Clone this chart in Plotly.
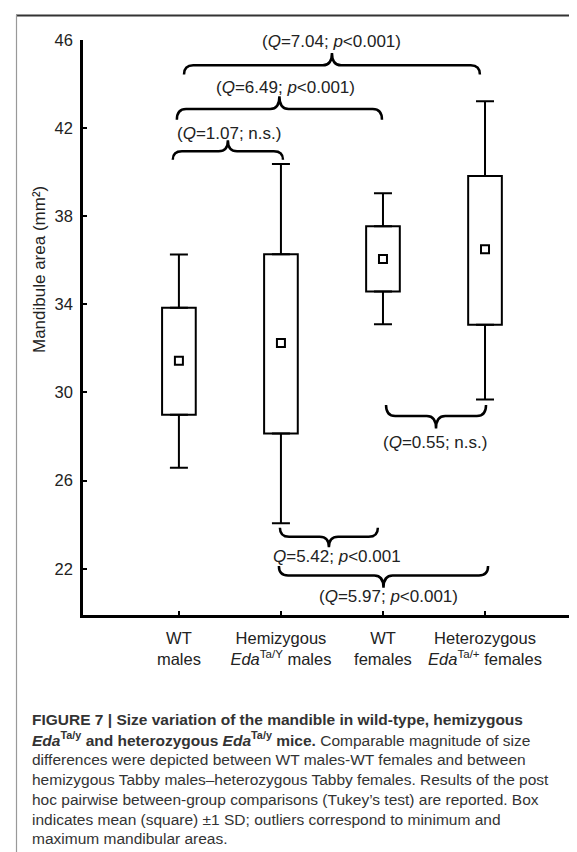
import plotly.graph_objects as go

# ---------------- data ----------------
group_pos = [1, 2, 3, 4]
tick_text = [
    "WT<br>males",
    "Hemizygous<br><i>Eda</i><sup>Ta/Y</sup> males",
    "WT<br>females",
    "Heterozygous<br><i>Eda</i><sup>Ta/+</sup> females",
]
means = [31.44, 32.25, 36.06, 36.50]
sd_low = [28.99, 28.14, 34.58, 33.07]
sd_high = [33.85, 36.28, 37.55, 39.83]
minimum = [26.58, 24.07, 33.10, 29.68]
maximum = [36.26, 40.37, 39.04, 43.22]
y_ticks = [22, 26, 30, 34, 38, 42, 46]

comparison_labels = [
    "(<i>Q</i>=7.04; <i>p</i>&lt;0.001)",
    "(<i>Q</i>=6.49; <i>p</i>&lt;0.001)",
    "(<i>Q</i>=1.07; n.s.)",
    "(<i>Q</i>=0.55; n.s.)",
    "<i>Q</i>=5.42; <i>p</i>&lt;0.001",
    "(<i>Q</i>=5.97; <i>p</i>&lt;0.001)",
]

# ---------------- layout geometry ----------------
W, H = 577, 852
L, R, T, B = 75, 577, 32, 607
FONT = "Liberation Sans, Arial, Helvetica, sans-serif"
TXT = "#222222"

def px_x(px):
    return (px - L) / (R - L)

def px_y(py):
    return (B - py) / (B - T)

# brace geometry: x0, x1, y_end, y_h, y_peak, label x, label y
brace_geo = [
    (1.05, 3.95, 44.43, 44.85, 45.41, 2.50, 45.92),
    (0.98, 2.99, 42.38, 42.87, 43.45, 2.04, 43.84),
    (0.94, 2.02, 40.57, 40.95, 41.45, 1.49, 41.76),
    (3.03, 4.01, 29.43, 28.93, 28.36, 3.51, 27.74),
    (1.99, 2.95, 23.86, 23.45, 22.98, 2.55, 22.56),
    (1.98, 4.03, 22.12, 21.69, 21.14, 3.05, 20.75),
]

fig = go.Figure()

# SD boxes
fig.add_trace(go.Bar(
    x=group_pos,
    base=sd_low,
    y=[h - l for h, l in zip(sd_high, sd_low)],
    width=0.33,
    marker=dict(color="white", line=dict(color="black", width=2)),
    hoverinfo="skip",
))

# upper whiskers
fig.add_trace(go.Scatter(
    x=group_pos, y=sd_high, mode="markers",
    marker=dict(size=1, color="rgba(0,0,0,0)"),
    error_y=dict(type="data", symmetric=False,
                 array=[mx - h for mx, h in zip(maximum, sd_high)],
                 arrayminus=[0] * len(group_pos),
                 color="black", thickness=2, width=9),
    hoverinfo="skip",
))
# lower whiskers
fig.add_trace(go.Scatter(
    x=group_pos, y=sd_low, mode="markers",
    marker=dict(size=1, color="rgba(0,0,0,0)"),
    error_y=dict(type="data", symmetric=False,
                 array=[0] * len(group_pos),
                 arrayminus=[l - mn for l, mn in zip(sd_low, minimum)],
                 color="black", thickness=2, width=9),
    hoverinfo="skip",
))
# means
fig.add_trace(go.Scatter(
    x=group_pos, y=means, mode="markers",
    marker=dict(symbol="square", size=8, color="white",
                line=dict(color="black", width=2)),
    hoverinfo="skip",
))

shapes = []
annotations = []

d = 0.09
for (x0, x1, ye, yh, yp, lx, ly), lab in zip(brace_geo, comparison_labels):
    xm = (x0 + x1) / 2
    path = (f"M {x0},{ye} Q {x0},{yh} {x0 + d},{yh} L {xm - d},{yh} "
            f"Q {xm},{yh} {xm},{yp} Q {xm},{yh} {xm + d},{yh} "
            f"L {x1 - d},{yh} Q {x1},{yh} {x1},{ye}")
    shapes.append(dict(type="path", xref="x", yref="y", path=path,
                       line=dict(color="black", width=2.5)))
    annotations.append(dict(x=lx, y=ly, xref="x", yref="y", text=lab,
                            showarrow=False, xanchor="center", yanchor="middle",
                            font=dict(family=FONT, size=17, color=TXT)))

# frame lines of the figure panel
shapes.append(dict(type="line", xref="paper", yref="paper",
                   x0=px_x(8), x1=px_x(577), y0=px_y(7.5), y1=px_y(7.5),
                   line=dict(color="#333333", width=2)))
shapes.append(dict(type="line", xref="paper", yref="paper",
                   x0=px_x(8.5), x1=px_x(8.5), y0=px_y(7), y1=px_y(852),
                   line=dict(color="#999999", width=1.2)))

# y-axis title
annotations.append(dict(x=px_x(31), y=px_y(262), xref="paper", yref="paper",
                        text="Mandibule area (mm²)", textangle=-90, showarrow=False,
                        xanchor="center", yanchor="middle",
                        font=dict(family=FONT, size=17, color=TXT)))

# caption
caption_lines = [
    "<b>FIGURE 7 | Size variation of the mandible in wild-type, hemizygous</b>",
    "<b><i>Eda</i><sup>Ta/y</sup> and heterozygous <i>Eda</i><sup>Ta/y</sup> mice.</b> Comparable magnitude of size",
    "differences were depicted between WT males-WT females and between",
    "hemizygous Tabby males–heterozygous Tabby females. Results of the post",
    "hoc pairwise between-group comparisons (Tukey’s test) are reported. Box",
    "indicates mean (square) ±1 SD; outliers correspond to minimum and",
    "maximum mandibular areas.",
]
for i, line in enumerate(caption_lines):
    annotations.append(dict(x=px_x(22), y=px_y(711 + 20 * i), xref="paper", yref="paper",
                            text=line, showarrow=False, xanchor="left", yanchor="middle",
                            font=dict(family=FONT, size=15.5, color="#333333")))

fig.update_layout(
    width=W, height=H,
    margin=dict(l=L, r=W - R, t=T, b=H - B, pad=0),
    paper_bgcolor="white", plot_bgcolor="white",
    showlegend=False,
    shapes=shapes,
    annotations=annotations,
    xaxis=dict(range=[0.06, 4.98], tickvals=group_pos, ticktext=tick_text,
               showline=True, linecolor="black", linewidth=2.5, mirror=False,
               ticks="inside", ticklen=4, tickwidth=2, tickcolor="black",
               showgrid=False, zeroline=False, ticklabelstandoff=6,
               tickfont=dict(family=FONT, size=16.5, color=TXT)),
    yaxis=dict(range=[19.9, 46], tickvals=y_ticks,
               showline=True, linecolor="black", linewidth=2.5, mirror=False,
               ticks="inside", ticklen=4, tickwidth=2, tickcolor="black",
               showgrid=False, zeroline=False, ticklabelstandoff=4,
               tickfont=dict(family=FONT, size=16.5, color=TXT)),
)

fig.write_html("out.html")
